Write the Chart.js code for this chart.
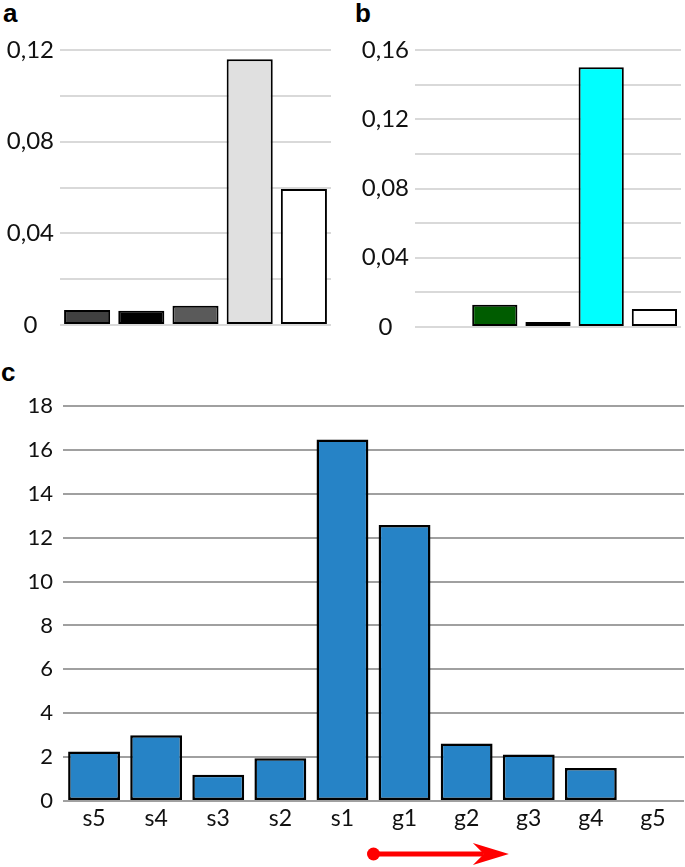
<!DOCTYPE html>
<html>
<head>
<meta charset="utf-8">
<script src="https://cdn.jsdelivr.net/npm/chart.js@4/dist/chart.umd.min.js"></script>
<style>
  body { margin: 0; background: #fff; }
  #wrap { position: relative; width: 685px; height: 867px; overflow: hidden; }
  canvas { position: absolute; }
  .tag { position: absolute; font: bold 26px "Liberation Sans", Arial, sans-serif; line-height: 1; color: #000; }
</style>
</head>
<body>
<div id="wrap">
  <div class="tag" style="left:3px;top:0px">a</div>
  <div class="tag" style="left:355px;top:0px">b</div>
  <div class="tag" style="left:1px;top:359px">c</div>
  <canvas id="chartA" width="340" height="340" style="left:0;top:0"></canvas>
  <canvas id="chartB" width="345" height="340" style="left:340px;top:0"></canvas>
  <canvas id="chartC" width="685" height="507" style="left:0;top:360px"></canvas>
</div>
<script>
// panel a
const catsA = ['1', '2', '3', '4', '5'];
const valsA = [0.0066, 0.0062, 0.0084, 0.116, 0.0594];
const colorsA = ['#404040', '#000000', '#5a5a5a', '#e0e0e0', '#ffffff'];

// panel b (first slot is empty)
const catsB = ['1', '2', '3', '4', '5'];
const valsB = [null, 0.0128, 0.0029, 0.150, 0.0104];
const colorsB = ['#ffffff', '#005c00', '#1010d8', '#00ffff', '#ffffff'];

// panel c
const catsC = ['s5', 's4', 's3', 's2', 's1', 'g1', 'g2', 'g3', 'g4', 'g5'];
const valsC = [2.26, 3.0, 1.2, 1.95, 16.47, 12.58, 2.62, 2.12, 1.5, null];

const FONT = 'Lato, "Open Sans", sans-serif';

function commaTick(v) {
  const n = Math.round(v * 100);
  if (n % 4 !== 0) return '';
  if (n === 0) return '0';
  return v.toFixed(2).replace('.', ',');
}

function smallChart(id, cats, vals, colors, yMax, yWidth, pad) {
  return new Chart(document.getElementById(id), {
    type: 'bar',
    data: {
      labels: cats,
      datasets: [{
        data: vals,
        backgroundColor: colors,
        borderColor: '#000',
        borderWidth: 2,
        borderSkipped: false,
        barPercentage: 0.85,
        categoryPercentage: 1
      }]
    },
    options: {
      responsive: false,
      animation: false,
      layout: { padding: pad },
      plugins: { legend: { display: false }, tooltip: { enabled: false } },
      scales: {
        x: {
          ticks: { display: false },
          grid: { display: false },
          border: { display: false },
          afterFit: s => { s.height = 0; }
        },
        y: {
          min: 0, max: yMax,
          ticks: {
            stepSize: 0.02,
            callback: commaTick,
            crossAlign: 'center',
            padding: 6,
            color: '#111',
            font: { family: FONT, size: 24 }
          },
          grid: { color: '#d9d9d9', lineWidth: 2, drawTicks: false },
          border: { display: false },
          afterFit: s => {
            s.width = yWidth;
            // let the outer padding alone decide where the plot ends
            s.paddingTop = 0;
            s.paddingBottom = 0;
          }
        }
      }
    }
  });
}

smallChart('chartA', catsA, valsA, colorsA, 0.12, 60, { top: 50, bottom: 15, right: 9, left: 0 });
smallChart('chartB', catsB, valsB, colorsB, 0.16, 75, { top: 50, bottom: 13, right: 4, left: 0 });

// red arrow under panel c, placed from the category scale
const arrowPlugin = {
  id: 'arrow',
  afterDraw(chart) {
    const xs = chart.scales.x;
    const ctx = chart.ctx;
    const step = xs.getPixelForValue(1) - xs.getPixelForValue(0);
    const x0 = xs.getPixelForValue(4) + step * 0.5;
    const x1 = xs.getPixelForValue(6) + step * 0.68;
    const y = chart.height - 13;
    ctx.save();
    ctx.fillStyle = '#ff0000';
    ctx.strokeStyle = '#ff0000';
    ctx.lineWidth = 5;
    ctx.beginPath();
    ctx.arc(x0, y, 6.5, 0, Math.PI * 2);
    ctx.fill();
    ctx.beginPath();
    ctx.moveTo(x0, y);
    ctx.lineTo(x1 - 25, y);
    ctx.stroke();
    ctx.beginPath();
    ctx.moveTo(x1, y);
    ctx.lineTo(x1 - 36, y - 11);
    ctx.lineTo(x1 - 25, y);
    ctx.lineTo(x1 - 36, y + 11);
    ctx.closePath();
    ctx.fill();
    ctx.restore();
  }
};

new Chart(document.getElementById('chartC'), {
  type: 'bar',
  data: {
    labels: catsC,
    datasets: [{
      data: valsC,
      backgroundColor: '#2683c6',
      borderColor: '#000',
      borderWidth: 2.5,
      borderSkipped: false,
      barPercentage: 0.835,
      categoryPercentage: 1
    }]
  },
  options: {
    responsive: false,
    animation: false,
    layout: { padding: { top: 46, right: 1, left: 0, bottom: 0 } },
    plugins: { legend: { display: false }, tooltip: { enabled: false } },
    scales: {
      x: {
        ticks: { padding: -4, color: '#111', font: { family: FONT, size: 23 } },
        grid: { display: false },
        border: { display: false },
        afterFit: s => { s.height = 66; }
      },
      y: {
        min: 0, max: 18,
        ticks: { stepSize: 2, padding: 10, color: '#111', font: { family: FONT, size: 22 } },
        grid: { color: '#a0a0a0', lineWidth: 2, drawTicks: false },
        border: { display: false },
        afterFit: s => { s.width = 63; }
      }
    }
  },
  plugins: [arrowPlugin]
});
</script>
</body>
</html>
